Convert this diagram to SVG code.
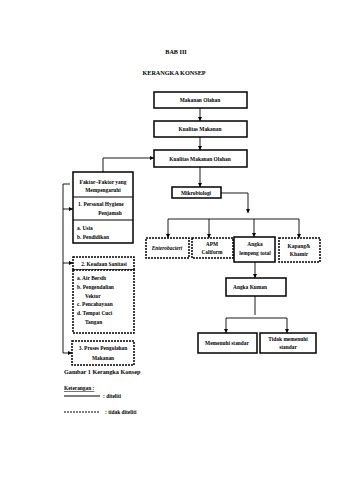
<svg xmlns="http://www.w3.org/2000/svg" width="339" height="480" viewBox="0 0 339 480">
<style>
text{font-family:"Liberation Serif","Times New Roman",serif;font-size:5.4px;font-weight:bold;fill:#000}
.t{font-size:6.2px}
.m{text-anchor:middle}
.b{fill:#fff;stroke:#000;stroke-width:1.5}
.d{fill:#fff;stroke:#000;stroke-width:1.5;stroke-dasharray:2,1}
.c{fill:none;stroke:#000;stroke-width:0.9}
</style>
<defs>
<marker id="a" viewBox="0 0 6 6" refX="6" refY="3" markerWidth="4" markerHeight="4" orient="auto" markerUnits="userSpaceOnUse"><path d="M0,0L6,3L0,6z" fill="#000"/></marker>
</defs>
<rect width="339" height="480" fill="#fff"/>
<text class="t m" x="176" y="54">BAB III</text>
<text class="t m" x="174" y="75">KERANGKA KONSEP</text>
<g id="connectors">
<path class="c" d="M200,108V121" marker-end="url(#a)"/>
<path class="c" d="M200,137V150" marker-end="url(#a)"/>
<path class="c" d="M200,167V187" marker-end="url(#a)"/>
<path class="c" d="M103,172V158H154" marker-end="url(#a)"/>
<path class="c" d="M221,193H248V213" marker-end="url(#a)"/>
<path class="c" d="M168,219H299"/>
<path class="c" d="M168,219V238" marker-end="url(#a)"/>
<path class="c" d="M209,219V238" marker-end="url(#a)"/>
<path class="c" d="M254,219V237" marker-end="url(#a)"/>
<path class="c" d="M299,219V238" marker-end="url(#a)"/>
<path class="c" d="M255,262V278" marker-end="url(#a)"/>
<path class="c" d="M255,296V315"/>
<path class="c" d="M226,318H287"/>
<path class="c" d="M226,318V333" marker-end="url(#a)"/>
<path class="c" d="M287,318V333" marker-end="url(#a)"/>
<path class="c" d="M70,184H63V353H72" marker-end="url(#a)"/>
<path class="c" d="M63,209H73" marker-end="url(#a)"/>
<path class="c" d="M63,263H73" marker-end="url(#a)"/>
</g>
<g id="makanan-olahan"><rect class="b" x="154" y="92" width="93" height="16"/><text class="m" x="200" y="102">Makanan Olahan</text></g>
<g id="kualitas-makanan"><rect class="b" x="154" y="121" width="93" height="16"/><text class="m" x="200" y="131">Kualitas Makanan</text></g>
<g id="kualitas-makanan-olahan"><rect class="b" x="154" y="150" width="93" height="17"/><text class="m" x="200" y="160.5">Kualitas Makanan Olahan</text></g>
<g id="mikrobiologi"><rect class="b" x="172" y="187" width="49" height="11"/><text class="m" x="196" y="194.5">Mikrobiologi</text></g>
<g id="enterobacteri"><rect class="d" x="146" y="238" width="43" height="20"/><text class="m" x="167" y="250" font-style="italic">Enterobacteri</text></g>
<g id="apm"><rect class="d" x="192" y="238" width="41" height="20"/><text class="m" x="212" y="246">APM</text><text class="m" x="212" y="254">Coliform</text></g>
<g id="alt"><rect class="b" x="234" y="237" width="41" height="25"/><text class="m" x="255" y="246">Angka</text><text class="m" x="255" y="255">lempeng total</text></g>
<g id="kapang"><rect class="d" x="279" y="238" width="41" height="24"/><text class="m" x="299" y="248">Kapang&amp;</text><text class="m" x="299" y="256">Khamir</text></g>
<g id="angka-kuman"><rect class="b" x="226" y="278" width="60" height="18"/><text x="233" y="289">Angka Kuman</text></g>
<g id="memenuhi"><rect class="b" x="198" y="333" width="59" height="20"/><text class="m" x="227" y="345">Memenuhi standar</text></g>
<g id="tidak-memenuhi"><rect class="b" x="260" y="333" width="56" height="20"/><text class="m" x="288" y="341">Tidak memenuhi</text><text class="m" x="288" y="349">standar</text></g>
<g id="faktor">
<rect class="b" x="73" y="172" width="60" height="71"/>
<path d="M73,197H133M73,220H133" stroke="#000" stroke-width="1.2"/>
<text class="m" x="103" y="184">Faktor–Faktor yang</text>
<text class="m" x="103" y="192">Mempengaruhi</text>
<text x="78" y="206">1. Personal Hygiene</text>
<text class="m" x="110" y="215">Penjamah</text>
<text x="77" y="230">a. Usia</text>
<text x="77" y="239">b. Pendidikan</text>
</g>
<g id="sanitasi">
<rect class="d" x="73" y="257" width="61" height="13"/>
<text class="m" x="104" y="265.5">2. Keadaan Sanitasi</text>
<rect class="d" x="73" y="270" width="61" height="63"/>
<text x="77" y="280">a. Air Bersih</text>
<text x="77" y="289">b. Pengendalian</text>
<text x="85" y="298">Vektor</text>
<text x="77" y="306">c. Pencahayaan</text>
<text x="77" y="315">d. Tempat Cuci</text>
<text x="85" y="324">Tangan</text>
</g>
<g id="proses">
<rect class="d" x="72" y="341" width="62" height="24"/>
<text class="m" x="103" y="350">3. Proses Pengolahan</text>
<text class="m" x="103" y="360">Makanan</text>
</g>
<text class="t" x="64" y="374">Gambar 1 Kerangka Konsep</text>
<text x="64" y="390" text-decoration="underline" font-size="5.8">Keterangan :</text>
<path d="M64,396H100" stroke="#000" stroke-width="1.2"/>
<text x="103" y="397.5">: diteliti</text>
<path d="M64,412H100" stroke="#000" stroke-width="1.2" stroke-dasharray="2,1"/>
<text x="105" y="413.5">: tidak diteliti</text>
</svg>
